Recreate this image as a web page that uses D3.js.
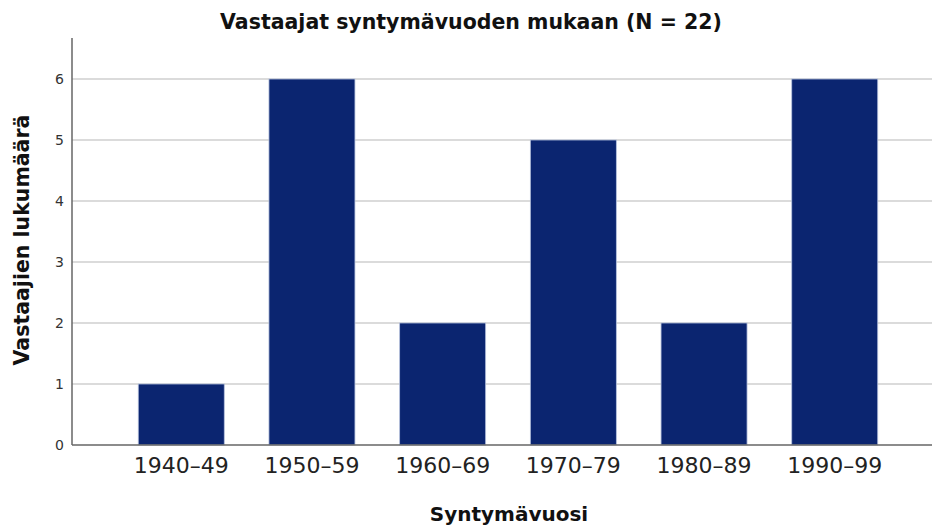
<!DOCTYPE html>
<html><head><meta charset="utf-8">
<script src="https://cdn.jsdelivr.net/npm/d3@7"></script>
<style>body{margin:0;background:#fff}svg{display:block}</style>
</head><body>
<script>
const categories = ["1940–49","1950–59","1960–69","1970–79","1980–89","1990–99"];
const counts = [1, 6, 2, 5, 2, 6];
const yTicks = [0,1,2,3,4,5,6];
const title = "Vastaajat syntymävuoden mukaan (N = 22)";
const xTitle = "Syntymävuosi";
const yTitle = "Vastaajien lukumäärä";

const W = 932, H = 530;
const svg = d3.select("body").append("svg").attr("width", W).attr("height", H);
const plotLeft = 72, plotTop = 38, plotBottom = 445;
const x = d3.scaleBand().domain(categories).range([plotLeft, 944]).paddingInner(0.342).paddingOuter(0.507);
const y = d3.scaleLinear().domain([0, 6]).range([plotBottom, 79]);

// gridlines
svg.append("g").selectAll("line").data(yTicks.filter(d => d > 0)).join("line")
  .attr("x1", plotLeft).attr("x2", W).attr("y1", d => y(d)).attr("y2", d => y(d))
  .attr("stroke", "#cfcfcf").attr("stroke-width", 1.5);

// bars
svg.append("g").selectAll("rect").data(categories).join("rect")
  .attr("x", d => x(d)).attr("width", x.bandwidth())
  .attr("y", (d,i) => y(counts[i])).attr("height", (d,i) => y(0) - y(counts[i]))
  .attr("fill", "#0b2570").attr("stroke", "#b4c0dc").attr("stroke-width", 0.8);

// y axis
const yAxis = d3.axisLeft(y).tickValues(yTicks).tickSize(0).tickPadding(8).tickFormat(d3.format("d"));
const gy = svg.append("g").attr("transform", `translate(${plotLeft},0)`).call(yAxis);
gy.select(".domain").remove();
gy.selectAll("text").attr("font-family", "DejaVu Sans, sans-serif").attr("font-size", 14).attr("fill", "#333");
svg.append("line").attr("x1", plotLeft).attr("x2", plotLeft).attr("y1", plotTop).attr("y2", plotBottom)
  .attr("stroke", "#666").attr("stroke-width", 1.5);

// x axis
const xAxis = d3.axisBottom(x).tickSize(0).tickPadding(12);
const gx = svg.append("g").attr("transform", `translate(0,${plotBottom})`).call(xAxis);
gx.select(".domain").remove();
gx.selectAll("text").attr("font-family", "DejaVu Sans, sans-serif").attr("font-size", 22).attr("fill", "#222");
svg.append("line").attr("x1", plotLeft).attr("x2", W).attr("y1", plotBottom).attr("y2", plotBottom)
  .attr("stroke", "#666").attr("stroke-width", 1.5);

// titles
svg.append("text").attr("x", 471).attr("y", 29).attr("text-anchor", "middle")
  .attr("font-family", "DejaVu Sans, sans-serif").attr("font-weight", "bold").attr("font-size", 20.5)
  .attr("fill", "#111").text(title);
svg.append("text").attr("x", 509).attr("y", 521).attr("text-anchor", "middle")
  .attr("font-family", "DejaVu Sans, sans-serif").attr("font-weight", "bold").attr("font-size", 20)
  .attr("fill", "#111").text(xTitle);
svg.append("text").attr("transform", "translate(29,240) rotate(-90)").attr("text-anchor", "middle")
  .attr("font-family", "DejaVu Sans, sans-serif").attr("font-weight", "bold").attr("font-size", 20.5)
  .attr("fill", "#111").text(yTitle);
</script>
</body></html>
